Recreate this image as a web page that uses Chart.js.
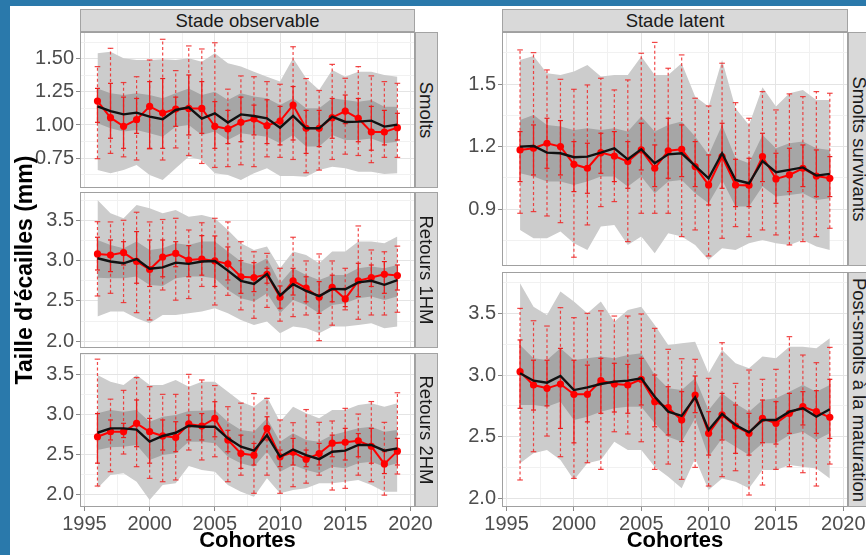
<!DOCTYPE html>
<html>
<head>
<meta charset="utf-8">
<script src="https://cdn.jsdelivr.net/npm/chart.js@4.4.1/dist/chart.umd.min.js"></script>
<style>
html,body{margin:0;padding:0;}
body{width:866px;height:555px;position:relative;overflow:hidden;background:#fff;font-family:"Liberation Sans",Arial,sans-serif;}
.frame-l{position:absolute;left:0;top:0;width:10px;height:555px;background:#2a79ab;z-index:3;}
.frame-t{position:absolute;left:0;top:0;width:866px;height:6px;background:#2a79ab;z-index:3;}
canvas{position:absolute;}
.strip{position:absolute;box-sizing:border-box;background:#d9d9d9;border:1px solid #a3a3a3;color:#1a1a1a;font-size:18.5px;display:flex;align-items:center;justify-content:center;white-space:nowrap;z-index:2;overflow:visible;}
.strip.v span{display:block;transform:rotate(90deg);}
.title{position:absolute;font-weight:bold;color:#000;white-space:nowrap;z-index:2;transform:translate(-50%,-50%);}
</style>
</head>
<body>
<div class="frame-l"></div>
<div class="frame-t"></div>

<script>
// Cohort years
const cohortes = [1996,1997,1998,1999,2000,2001,2002,2003,2004,2005,2006,2007,2008,2009,2010,2011,2012,2013,2014,2015,2016,2017,2018,2019];

// ---- Smolts (stade observable) ----
const smoltsObs      = [1.18,1.055,0.99,1.04,1.14,1.09,1.12,1.125,1.125,0.99,0.97,1.02,1.045,0.995,1.03,1.15,0.975,0.975,1.055,1.105,1.05,0.947,0.947,0.98];
const smoltsMed      = [1.14,1.105,1.08,1.093,1.063,1.043,1.113,1.133,1.048,1.088,1.018,1.08,1.068,1.05,0.98,1.068,0.975,0.975,1.063,1.023,1.025,1.033,0.988,1.003];
const smoltsRibLo    = [0.661,0.636,0.661,0.698,0.623,0.585,0.673,0.761,0.736,0.636,0.623,0.585,0.636,0.673,0.616,0.616,0.610,0.661,0.686,0.673,0.648,0.648,0.631,0.636];
const smoltsRibHi    = [1.540,1.553,1.503,1.490,1.490,1.495,1.490,1.503,1.477,1.540,1.465,1.440,1.402,1.364,1.327,1.503,1.352,1.264,1.415,1.364,1.402,1.402,1.377,1.364];
const smoltsBandLo   = [1.013,0.975,0.950,0.962,0.937,0.912,0.987,1.000,0.925,0.950,0.887,0.937,0.925,0.912,0.862,0.925,0.837,0.837,0.925,0.887,0.887,0.899,0.862,0.874];
const smoltsBandHi   = [1.276,1.239,1.226,1.239,1.226,1.201,1.239,1.276,1.226,1.251,1.188,1.239,1.214,1.201,1.151,1.201,1.126,1.126,1.201,1.188,1.176,1.188,1.138,1.138];
const smoltsWhiskLo  = [0.746,0.786,0.76,0.736,0.82,0.736,0.827,0.77,0.71,0.68,0.686,0.70,0.686,0.76,0.756,0.74,0.64,0.66,0.74,0.78,0.77,0.716,0.756,0.756];
const smoltsWhiskHi  = [1.44,1.578,1.32,1.364,1.49,1.646,1.41,1.596,1.573,1.62,1.27,1.37,1.364,1.327,1.307,1.59,1.35,1.26,1.457,1.352,1.44,1.37,1.327,1.314];
const smoltsInnerLo  = [1.02,0.9,0.824,0.937,0.824,0.824,0.99,0.925,0.937,0.824,0.86,0.874,0.925,0.86,0.85,0.887,0.786,0.837,0.9,1.01,0.874,0.81,0.85,0.887];
const smoltsInnerHi  = [1.276,1.314,1.21,1.2,1.327,1.35,1.21,1.377,1.327,1.176,1.11,1.21,1.15,1.19,1.14,1.29,1.11,1.11,1.2,1.226,1.2,1.14,1.11,1.088];

// ---- Retours 1HM ----
const r1hmObs      = [3.083,3.07,3.10,2.99,2.89,3.045,3.09,3.008,3.02,2.996,2.96,2.80,2.79,2.83,2.545,2.75,2.66,2.545,2.67,2.525,2.75,2.79,2.83,2.815];
const r1hmMed      = [3.03,2.99,2.967,3.02,2.90,2.917,2.975,2.96,2.99,2.996,2.876,2.75,2.71,2.835,2.57,2.707,2.624,2.56,2.65,2.645,2.73,2.75,2.70,2.76];
const r1hmRibLo    = [2.306,2.368,2.368,2.285,2.223,2.326,2.326,2.347,2.368,2.409,2.347,2.265,2.203,2.244,2.099,2.182,2.161,2.099,2.182,2.182,2.203,2.223,2.161,2.182];
const r1hmRibHi    = [3.752,3.587,3.525,3.690,3.649,3.587,3.628,3.545,3.566,3.525,3.380,3.215,3.132,3.174,2.905,3.112,3.070,2.967,3.112,3.112,3.236,3.236,3.215,3.298];
const r1hmBandLo   = [2.789,2.781,2.781,2.802,2.698,2.686,2.781,2.802,2.802,2.781,2.636,2.533,2.492,2.595,2.347,2.512,2.450,2.347,2.450,2.471,2.533,2.554,2.512,2.554];
const r1hmBandHi   = [3.256,3.194,3.153,3.236,3.132,3.153,3.215,3.194,3.236,3.236,3.112,2.988,2.946,3.029,2.719,2.905,2.822,2.760,2.822,2.822,2.905,2.926,2.905,2.946];
const r1hmWhiskLo  = [2.562,2.595,2.48,2.355,2.265,2.636,2.51,2.53,2.68,2.45,2.57,2.39,2.285,2.42,2.25,2.306,2.326,2.008,2.20,2.39,2.273,2.326,2.326,2.36];
const r1hmWhiskHi  = [3.483,3.48,3.50,3.60,3.48,3.51,3.525,3.38,3.47,3.525,3.48,3.235,3.11,3.09,2.905,3.29,2.996,3.083,2.996,2.905,3.43,3.132,3.11,3.18];
const r1hmInnerLo  = [2.884,2.864,2.946,2.72,2.68,2.80,2.925,2.80,2.82,2.68,2.76,2.595,2.616,2.72,2.41,2.574,2.49,2.347,2.49,2.43,2.554,2.68,2.595,2.636];
const r1hmInnerHi  = [3.29,3.256,3.235,3.36,3.256,3.256,3.235,3.186,3.31,3.306,3.17,3.0,2.975,2.905,2.686,2.905,2.80,2.74,2.82,2.657,2.967,2.946,2.988,2.946];

// ---- Retours 2HM ----
const r2hmObs      = [2.72,2.783,2.783,2.888,2.783,2.73,2.71,2.88,2.854,2.95,2.68,2.51,2.49,2.825,2.47,2.525,2.44,2.51,2.64,2.65,2.67,2.60,2.38,2.54];
const r2hmMed      = [2.77,2.825,2.825,2.81,2.66,2.73,2.77,2.858,2.846,2.846,2.70,2.596,2.546,2.74,2.47,2.56,2.49,2.44,2.533,2.546,2.617,2.617,2.546,2.575];
const r2hmRibLo    = [2.075,2.242,2.263,2.158,1.929,2.117,2.138,2.354,2.304,2.283,2.117,2.033,1.971,2.200,2.013,2.054,2.075,2.138,2.138,2.158,2.179,2.117,2.033,2.033];
const r2hmRibHi    = [3.492,3.408,3.367,3.492,3.367,3.367,3.429,3.346,3.408,3.408,3.283,3.158,3.096,3.221,2.908,3.096,3.013,2.950,3.054,3.054,3.117,3.138,3.096,3.138];
const r2hmBandLo   = [2.554,2.588,2.596,2.617,2.429,2.492,2.513,2.658,2.658,2.638,2.471,2.388,2.346,2.533,2.283,2.367,2.304,2.263,2.346,2.325,2.388,2.408,2.346,2.388];
const r2hmBandHi   = [3.013,3.054,3.033,3.054,2.908,2.971,2.992,3.042,3.046,3.054,2.908,2.804,2.783,2.950,2.658,2.763,2.679,2.658,2.742,2.783,2.825,2.846,2.783,2.804];
const r2hmWhiskLo  = [2.104,2.283,2.504,2.346,2.2,2.158,2.18,2.554,2.43,2.47,2.158,2.24,2.013,2.24,2.013,2.096,2.14,2.24,2.054,2.075,2.24,2.158,1.99,2.254];
const r2hmWhiskHi  = [3.69,3.19,3.30,3.46,3.346,3.25,3.25,3.50,3.43,3.36,3.096,3.14,3.26,3.2,2.93,2.896,3.06,2.9,2.917,3.075,3.004,3.16,2.9,3.27];
const r2hmInnerLo  = [2.39,2.68,2.71,2.596,2.39,2.554,2.533,2.68,2.68,2.72,2.533,2.325,2.367,2.68,2.346,2.367,2.346,2.367,2.47,2.43,2.47,2.39,2.26,2.367];
const r2hmInnerHi  = [3.01,2.93,2.888,3.18,2.95,2.93,2.908,2.99,3.01,3.158,2.80,2.74,2.637,2.97,2.554,2.7,2.554,2.637,2.74,2.825,2.76,2.825,2.533,2.70];

// ---- Smolts survivants (stade latent) ----
const survObs      = [1.184,1.192,1.216,1.20,1.115,1.096,1.171,1.155,1.128,1.184,1.096,1.18,1.187,1.104,1.016,1.152,1.016,1.014,1.152,1.045,1.064,1.096,1.059,1.048];
const survMed      = [1.20,1.203,1.171,1.168,1.149,1.152,1.171,1.192,1.139,1.187,1.12,1.163,1.168,1.107,1.048,1.168,1.04,1.024,1.131,1.077,1.088,1.10,1.061,1.069];
const survRibLo    = [0.800,0.760,0.760,0.792,0.736,0.704,0.816,0.824,0.728,0.768,0.688,0.784,0.768,0.728,0.656,0.712,0.704,0.736,0.752,0.736,0.728,0.752,0.720,0.704];
const survRibHi    = [1.616,1.635,1.552,1.544,1.560,1.592,1.536,1.544,1.544,1.632,1.544,1.544,1.600,1.440,1.392,1.616,1.384,1.304,1.485,1.392,1.456,1.472,1.424,1.424];
const survBandLo   = [1.072,1.056,1.032,1.032,1.016,1.032,1.056,1.056,1.008,1.056,0.976,1.032,1.040,0.976,0.928,1.040,0.912,0.912,1.008,0.960,0.968,0.976,0.944,0.952];
const survBandHi   = [1.328,1.352,1.304,1.296,1.280,1.288,1.280,1.288,1.272,1.344,1.272,1.304,1.320,1.248,1.160,1.304,1.144,1.120,1.256,1.192,1.216,1.224,1.192,1.184];
const survWhiskLo  = [0.88,0.888,0.867,0.835,0.669,0.824,0.912,0.936,0.744,0.88,0.88,0.88,0.768,0.80,0.675,0.76,0.816,0.768,0.80,0.776,0.728,0.744,0.768,0.808];
const survWhiskHi  = [1.664,1.651,1.568,1.523,1.475,1.496,1.528,1.472,1.52,1.648,1.70,1.576,1.64,1.432,1.395,1.60,1.411,1.336,1.464,1.376,1.453,1.44,1.464,1.456];
const survInnerLo  = [1.032,1.064,1.096,1.064,0.984,0.976,1.072,1.032,1.00,1.088,1.008,1.048,1.056,1.008,0.92,1.00,0.912,0.912,1.032,0.928,0.984,1.008,0.96,0.96];
const survInnerHi  = [1.272,1.304,1.336,1.325,1.224,1.216,1.264,1.272,1.224,1.312,1.208,1.336,1.304,1.224,1.16,1.312,1.139,1.144,1.264,1.168,1.192,1.208,1.184,1.152];

// ---- Post-smolts à la maturation ----
const postObs      = [3.027,2.919,2.892,2.927,2.843,2.843,2.954,2.927,2.919,2.965,2.784,2.735,2.635,2.838,2.527,2.676,2.586,2.527,2.649,2.608,2.689,2.743,2.703,2.657];
const postMed      = [3.014,2.954,2.938,2.992,2.878,2.90,2.927,2.946,2.954,2.973,2.824,2.703,2.668,2.819,2.554,2.684,2.595,2.535,2.635,2.635,2.703,2.73,2.662,2.722];
const postRibLo    = [2.284,2.365,2.392,2.311,2.149,2.284,2.311,2.459,2.392,2.392,2.257,2.176,2.081,2.324,2.068,2.162,2.135,2.081,2.230,2.230,2.270,2.257,2.243,2.162];
const postRibHi    = [3.743,3.554,3.486,3.676,3.595,3.500,3.595,3.432,3.527,3.554,3.405,3.243,3.257,3.270,3.014,3.203,3.095,3.054,3.149,3.135,3.230,3.230,3.216,3.297];
const postBandLo   = [2.757,2.757,2.743,2.784,2.635,2.662,2.703,2.730,2.743,2.743,2.608,2.500,2.459,2.649,2.338,2.486,2.419,2.351,2.446,2.446,2.514,2.541,2.473,2.527];
const postBandHi   = [3.243,3.135,3.122,3.216,3.122,3.135,3.149,3.135,3.162,3.176,3.000,2.892,2.878,2.973,2.716,2.851,2.770,2.703,2.797,2.811,2.865,2.919,2.865,2.919];
const postWhiskLo  = [2.149,2.378,2.505,2.338,2.162,2.289,2.235,2.54,2.522,2.459,2.235,2.278,2.154,2.251,2.10,2.176,2.224,2.027,2.108,2.235,2.257,2.208,2.10,2.278];
const postWhiskHi  = [3.54,3.44,3.397,3.546,3.465,3.50,3.52,3.478,3.478,3.495,3.378,3.208,3.132,3.127,2.973,3.262,2.932,3.04,2.965,3.046,3.311,3.162,3.10,3.224];
const postInnerLo  = [2.73,2.716,2.75,2.567,2.45,2.62,2.69,2.70,2.69,2.757,2.58,2.514,2.46,2.695,2.351,2.473,2.365,2.351,2.451,2.44,2.527,2.595,2.527,2.486];
const postInnerHi  = [3.284,3.12,3.12,3.216,3.12,3.08,3.135,3.095,3.086,3.135,3.0,2.905,2.865,2.992,2.703,2.851,2.757,2.689,2.797,2.784,2.851,2.865,2.873,2.965];

// Axis tick settings
const xTickStep = 5;
const smoltsTicks = {major: 0.25, digits: 2};
const retoursTicks = {major: 0.5, digits: 1};
const survTicks = {major: 0.3, digits: 1};

// ---------------------------------------------------------------
const X_MIN = 1994.66, X_MAX = 2020.35;
const Y_AXIS_W = 70, PAD_T = 16, PAD_R = 30, X_AXIS_H = 32;
const FONT = '"Liberation Sans", Arial, Helvetica, sans-serif';
const RED = '#ff0000';

function isMajor(v, step){ const r = v / step; return Math.abs(r - Math.round(r)) < 1e-6; }
function pts(ys){ return cohortes.map((c, i) => ({x: c, y: ys[i]})); }
function segments(lo, hi){
  const d = [];
  cohortes.forEach((c, i) => { d.push({x: c, y: lo[i]}, {x: c, y: hi[i]}, {x: c, y: null}); });
  return d;
}
function ends(lo, hi){
  const d = [];
  cohortes.forEach((c, i) => { d.push({x: c, y: lo[i]}, {x: c, y: hi[i]}); });
  return d;
}

const panelFrame = {
  id: 'panelFrame',
  afterDatasetsDraw(chart){
    const a = chart.chartArea, ctx = chart.ctx;
    ctx.save();
    ctx.strokeStyle = '#a0a0a0';
    ctx.lineWidth = 1;
    ctx.strokeRect(Math.round(a.left) + 0.5, Math.round(a.top) + 0.5, Math.round(a.right - a.left) - 1, Math.round(a.bottom - a.top) - 1);
    ctx.restore();
  }
};

function addStrip(text, l, t, w, h, vertical){
  const d = document.createElement('div');
  d.className = 'strip' + (vertical ? ' v' : '');
  d.style.left = l + 'px'; d.style.top = t + 'px';
  d.style.width = w + 'px'; d.style.height = h + 'px';
  const s = document.createElement('span');
  s.textContent = text;
  d.appendChild(s);
  document.body.appendChild(d);
}
function addTitle(text, cx, cy, size, rot){
  const d = document.createElement('div');
  d.className = 'title';
  d.textContent = text;
  d.style.left = cx + 'px'; d.style.top = cy + 'px';
  d.style.fontSize = size + 'px';
  if (rot) d.style.transform = 'translate(-50%,-50%) rotate(' + rot + 'deg)';
  document.body.appendChild(d);
}

function drawPanel(rect, yMin, yMax, tk, showX, s){
  const cv = document.createElement('canvas');
  const W = rect.w + Y_AXIS_W + PAD_R;
  const H = rect.h + PAD_T + (showX ? X_AXIS_H : PAD_T);
  cv.width = W; cv.height = H;
  cv.style.left = (rect.l - Y_AXIS_W) + 'px';
  cv.style.top = (rect.t - PAD_T) + 'px';
  cv.style.width = W + 'px'; cv.style.height = H + 'px';
  document.body.appendChild(cv);

  const noLine = {borderWidth: 0, pointRadius: 0, pointHoverRadius: 0};
  new Chart(cv, {
    type: 'line',
    data: {
      datasets: [
        Object.assign({data: pts(s.ribLo), fill: false, order: 10}, noLine),
        Object.assign({data: pts(s.ribHi), fill: '-1', backgroundColor: '#cccccc', order: 10}, noLine),
        Object.assign({data: pts(s.bandLo), fill: false, order: 9}, noLine),
        Object.assign({data: pts(s.bandHi), fill: '-1', backgroundColor: '#a6a6a6', order: 9}, noLine),
        {data: segments(s.whLo, s.whHi), borderColor: 'rgba(238,40,40,0.85)', borderWidth: 1.2,
         borderDash: [3, 2.5], pointRadius: 0, spanGaps: false, order: 6},
        {data: ends(s.whLo, s.whHi), showLine: false, pointStyle: 'line', pointRadius: 2.8,
         pointBorderColor: 'rgba(238,40,40,0.85)', pointBorderWidth: 1.2, order: 6},
        {data: segments(s.inLo, s.inHi), borderColor: '#ec1d1d', borderWidth: 1.3,
         pointRadius: 0, spanGaps: false, order: 5},
        {data: ends(s.inLo, s.inHi), showLine: false, pointStyle: 'line', pointRadius: 2.5,
         pointBorderColor: '#ec1d1d', pointBorderWidth: 1.2, order: 5},
        {data: pts(s.obs), borderColor: RED, borderWidth: 2, pointRadius: 3.6,
         pointBackgroundColor: RED, pointBorderWidth: 0, order: 2},
        {data: pts(s.med), borderColor: '#111111', borderWidth: 2.4, pointRadius: 0, order: 1}
      ]
    },
    options: {
      responsive: false,
      animation: false,
      devicePixelRatio: 1,
      events: [],
      layout: {padding: {top: PAD_T, right: PAD_R, bottom: showX ? 0 : PAD_T, left: 0}},
      elements: {line: {tension: 0}},
      plugins: {legend: {display: false}, tooltip: {enabled: false}},
      scales: {
        x: {
          type: 'linear', min: X_MIN, max: X_MAX,
          border: {display: false},
          grid: {
            color: c => isMajor(c.tick.value, xTickStep) ? '#e4e4e4' : '#f1f1f1',
            lineWidth: 1,
            drawTicks: showX, tickLength: 4,
            tickColor: c => isMajor(c.tick.value, xTickStep) ? '#8c8c8c' : 'rgba(0,0,0,0)'
          },
          ticks: {
            display: showX, stepSize: xTickStep / 2, includeBounds: false, autoSkip: false,
            maxRotation: 0, padding: 1, color: '#4d4d4d', font: {family: FONT, size: 20},
            callback: v => isMajor(v, xTickStep) ? String(Math.round(v)) : ''
          },
          afterFit: sc => { sc.height = showX ? X_AXIS_H : 0; }
        },
        y: {
          type: 'linear', min: yMin, max: yMax,
          border: {display: false},
          grid: {
            color: c => isMajor(c.tick.value, tk.major) ? '#e4e4e4' : '#f1f1f1',
            lineWidth: 1,
            drawTicks: true, tickLength: 4,
            tickColor: c => isMajor(c.tick.value, tk.major) ? '#8c8c8c' : 'rgba(0,0,0,0)'
          },
          ticks: {
            stepSize: tk.major / 2, includeBounds: false, autoSkip: false, padding: 2,
            color: '#4d4d4d', font: {family: FONT, size: 20},
            callback: v => isMajor(v, tk.major) ? v.toFixed(tk.digits) : ''
          },
          afterFit: sc => { sc.width = Y_AXIS_W; }
        }
      }
    },
    plugins: [panelFrame]
  });
}

// Panel rectangles (plot areas)
const P1 = {l: 80,  t: 32,  w: 335, h: 156};
const P2 = {l: 80,  t: 192, w: 335, h: 156};
const P3 = {l: 80,  t: 353, w: 335, h: 154};
const P4 = {l: 502, t: 32,  w: 346, h: 234};
const P5 = {l: 502, t: 272, w: 346, h: 235};

drawPanel(P1, 0.525, 1.701, smoltsTicks, false, {obs: smoltsObs, med: smoltsMed, ribLo: smoltsRibLo, ribHi: smoltsRibHi,
  bandLo: smoltsBandLo, bandHi: smoltsBandHi, whLo: smoltsWhiskLo, whHi: smoltsWhiskHi, inLo: smoltsInnerLo, inHi: smoltsInnerHi});
drawPanel(P2, 1.917, 3.851, retoursTicks, false, {obs: r1hmObs, med: r1hmMed, ribLo: r1hmRibLo, ribHi: r1hmRibHi,
  bandLo: r1hmBandLo, bandHi: r1hmBandHi, whLo: r1hmWhiskLo, whHi: r1hmWhiskHi, inLo: r1hmInnerLo, inHi: r1hmInnerHi});
drawPanel(P3, 1.842, 3.767, retoursTicks, true, {obs: r2hmObs, med: r2hmMed, ribLo: r2hmRibLo, ribHi: r2hmRibHi,
  bandLo: r2hmBandLo, bandHi: r2hmBandHi, whLo: r2hmWhiskLo, whHi: r2hmWhiskHi, inLo: r2hmInnerLo, inHi: r2hmInnerHi});
drawPanel(P4, 0.627, 1.750, survTicks, false, {obs: survObs, med: survMed, ribLo: survRibLo, ribHi: survRibHi,
  bandLo: survBandLo, bandHi: survBandHi, whLo: survWhiskLo, whHi: survWhiskHi, inLo: survInnerLo, inHi: survInnerHi});
drawPanel(P5, 1.930, 3.835, retoursTicks, true, {obs: postObs, med: postMed, ribLo: postRibLo, ribHi: postRibHi,
  bandLo: postBandLo, bandHi: postBandHi, whLo: postWhiskLo, whHi: postWhiskHi, inLo: postInnerLo, inHi: postInnerHi});

// Facet strips
addStrip('Stade observable', P1.l, 9, P1.w, 23, false);
addStrip('Stade latent', P4.l, 9, P4.w, 23, false);
addStrip('Smolts', P1.l + P1.w, P1.t, 23, P1.h, true);
addStrip('Retours 1HM', P2.l + P2.w, P2.t, 23, P2.h, true);
addStrip('Retours 2HM', P3.l + P3.w, P3.t, 23, P3.h, true);
addStrip('Smolts survivants', P4.l + P4.w, P4.t, 23, P4.h, true);
addStrip('Post-smolts à la maturation', P5.l + P5.w, P5.t, 23, P5.h, true);

// Axis titles
addTitle("Taille d'écailles (mm)", 24, 270, 23, -90);
addTitle('Cohortes', P1.l + P1.w / 2, 540, 22, 0);
addTitle('Cohortes', P4.l + P4.w / 2, 540, 22, 0);
</script>
</body>
</html>
